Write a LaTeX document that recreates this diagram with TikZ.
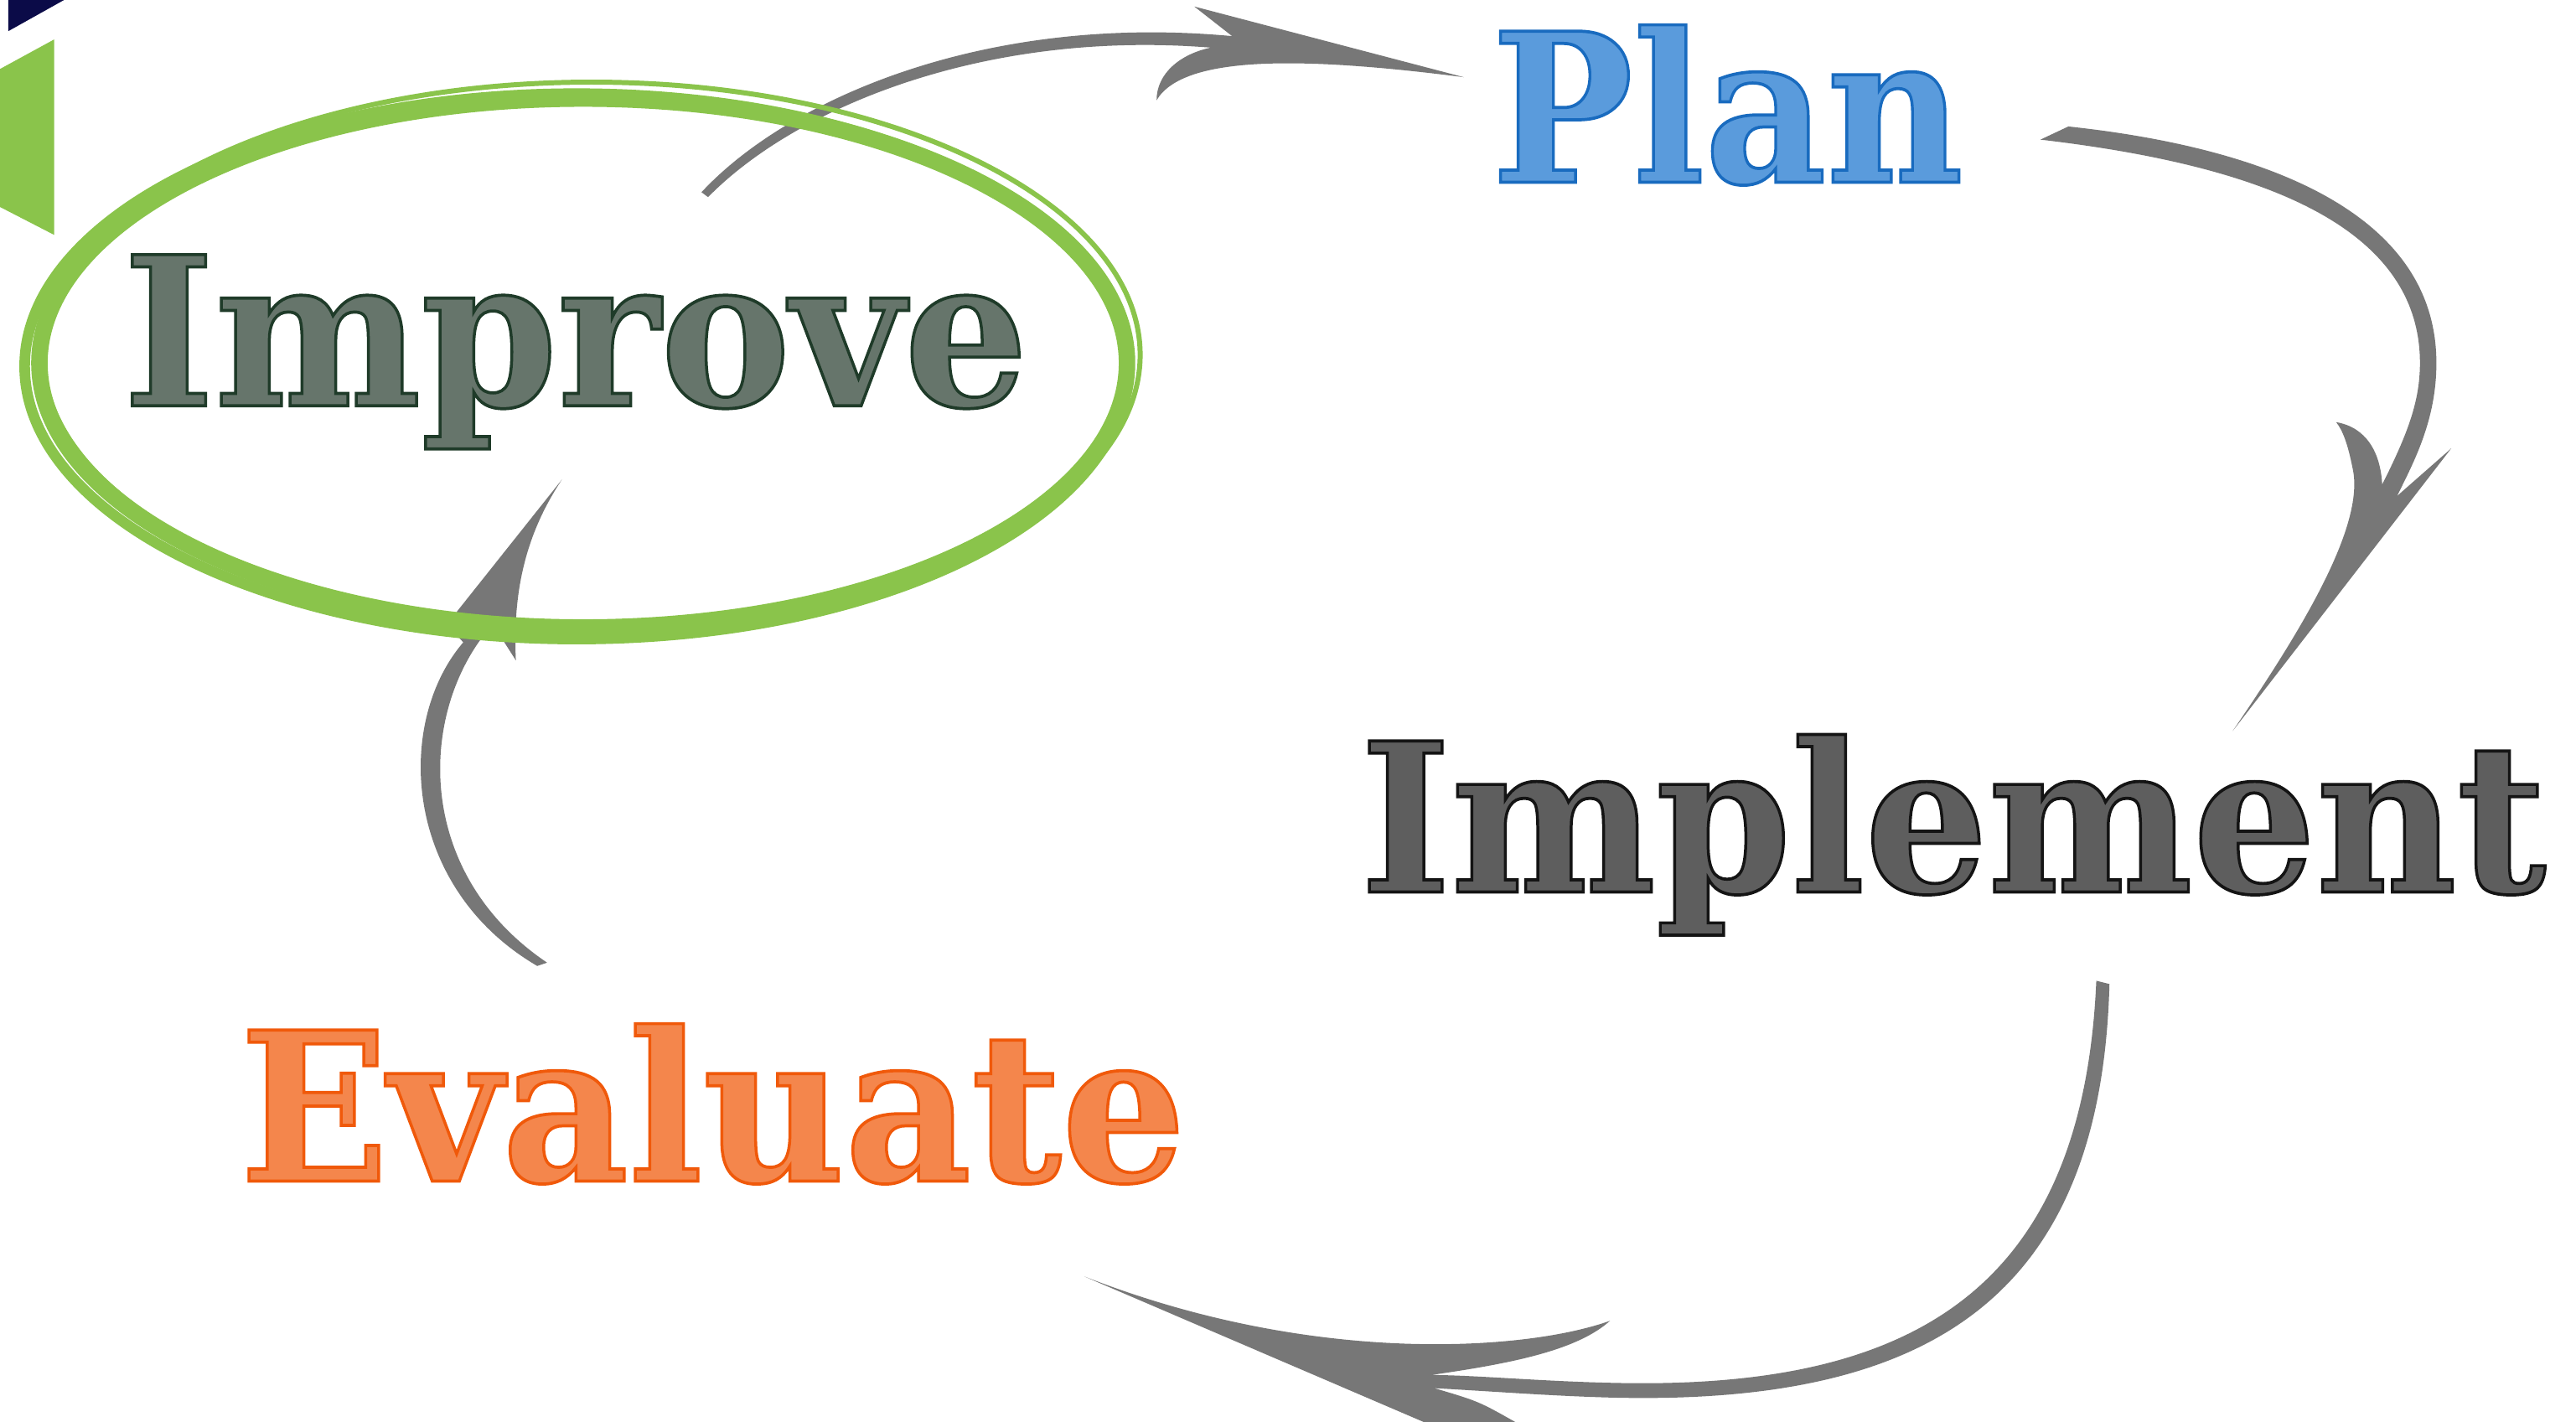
\documentclass[tikz,border=0pt]{standalone}
\usepackage{fontspec}
\usepackage{graphicx}
\newfontfamily\wordfont[FakeBold=1.5]{DejaVu Serif}
\definecolor{arrowgray}{HTML}{777777}
\definecolor{leafgreen}{HTML}{8AC44B}
\definecolor{navy}{HTML}{0B0B48}
\definecolor{planfill}{HTML}{5A9BDC}
\definecolor{improvefill}{HTML}{66756B}
\definecolor{implfill}{HTML}{5E5E5E}
\definecolor{evalfill}{HTML}{F4864C}
\newcommand{\skword}[4]{\resizebox{#1}{\height}{\color{#2}\special{pdf:code #3 RG}\wordfont\bfseries\fontsize{70.4}{80}\selectfont #4}}
\begin{document}
\begin{tikzpicture}[x=0.019605cm, y=-0.019605cm,
  word/.style={inner sep=0pt, outer sep=0pt, anchor=base west},
  arrowshape/.style={fill=arrowgray},
  ring/.style={draw=leafgreen, fill=none}]
\clip (0,0) rectangle (1568,865.6);
\fill[white] (0,0) rectangle (1568,865.6);

% corner marks
\fill[navy] (5,0) -- (39,0) -- (5,19) -- cycle;
\fill[leafgreen] (0,42) -- (33,24) -- (33,143) -- (0,126) -- cycle;

% arrow Improve -> Plan
\fill[arrowshape] (427,117) .. controls (480,60) and (600,8) .. (750,22)
  -- (727,4) -- (891,47)
  .. controls (790,34) and (720,34) .. (704,61)
  .. controls (704,45) and (718,33) .. (737,29)
  .. controls (600,18) and (485,65) .. (431,120) -- cycle;

% arrow Plan -> Implement
\fill[arrowshape] (1242,85) -- (1259,77)
  .. controls (1380,90) and (1483,130) .. (1483,221)
  .. controls (1483,255) and (1470,280) .. (1459,302)
  -- (1492,273) -- (1359,445)
  .. controls (1400,385) and (1440,320) .. (1432,285)
  .. controls (1429,270) and (1426,262) .. (1422,257)
  .. controls (1440,260) and (1449,275) .. (1450,295)
  .. controls (1465,265) and (1473,245) .. (1473,221)
  .. controls (1473,135) and (1370,100) .. (1242,85) -- cycle;

% arrow Implement -> Evaluate
\fill[arrowshape] (1276,597) .. controls (1268,780) and (1170,842) .. (1000,842)
  .. controls (950,842) and (900,837) .. (871,837)
  .. controls (920,830) and (960,822) .. (980,804)
  .. controls (930,822) and (800,832) .. (660,777)
  -- (1061,949) -- (923,866)
  .. controls (900,853) .. (873,845)
  .. controls (910,847) and (960,851) .. (1000,851)
  .. controls (1180,851) and (1279,785) .. (1284,599) -- cycle;

% arrow Evaluate -> Improve
\fill[arrowshape] (333,586) .. controls (250,530) and (255,430) .. (300,380)
  -- (314,402)
  .. controls (312,360) and (320,325) .. (342,292)
  -- (272,380) -- (282,391)
  .. controls (240,440) and (245,540) .. (327,588) -- cycle;

% sketched ring round Improve
\draw[ring, line width=5.6pt] (355,221) ellipse [x radius=331, y radius=161];
\draw[ring, line width=3.6pt] (351,223) ellipse [x radius=336, y radius=166];
\draw[ring, line width=1.7pt] (360,216) ellipse [x radius=334, y radius=166];

% words
\node[word] (plan) at (908,111) {\skword{5.627cm}{planfill}{0.10 0.42 0.75}{Plan}};
\node[word] (improve) at (75,247) {\skword{10.80cm}{improvefill}{0.12 0.23 0.16}{Improve}};
\node[word] (implement) at (828,543) {\skword{14.155cm}{implfill}{0.08 0.08 0.08}{Implement}};
\node[word] (evaluate) at (146,719) {\skword{11.29cm}{evalfill}{0.94 0.35 0.04}{Evaluate}};
\end{tikzpicture}
\end{document}
